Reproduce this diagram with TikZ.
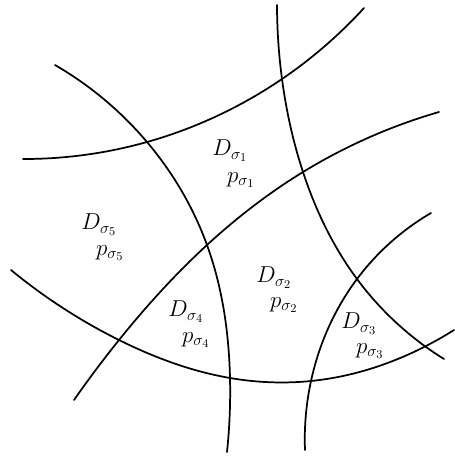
\documentclass[tikz,border=0pt]{standalone}
\usetikzlibrary{hobby}
\begin{document}
\begin{tikzpicture}[x=0.75pt,y=-0.75pt,
  arc/.style={line width=1.3pt,line cap=round,use Hobby shortcut},
  lab/.style={font=\fontsize{17.5}{19}\selectfont,inner sep=0pt}]
\useasboundingbox (0,0) rectangle (454,457);
% curves
\draw[arc] (23,159) .. (147,142) .. (282,79) .. (364,8);
\draw[arc] (277,5) .. (282,79) .. (303,172) .. (357,279) .. (444,359);
\draw[arc] (55,65) .. (147,142) .. (207,245) .. (230,378) .. (227,452);
\draw[arc] (74,400) .. (119,340) .. (207,245) .. (303,172) .. (439,112);
\draw[arc] (11,270) .. (119,340) .. (230,378) .. (311,381) .. (426,346) .. (454,330);
\draw[arc] (431,213) .. (357,279) .. (311,381) .. (305,450);
% labels
\node[lab] (d1) at (230,151) {$D_{\sigma_1}$};
\node[lab] (p1) at (241,180) {$p_{\sigma_1}$};
\node[lab] (d5) at (99,225) {$D_{\sigma_5}$};
\node[lab] (p5) at (110,253) {$p_{\sigma_5}$};
\node[lab] (d2) at (274,278) {$D_{\sigma_2}$};
\node[lab] (p2) at (284,305) {$p_{\sigma_2}$};
\node[lab] (d4) at (186,312) {$D_{\sigma_4}$};
\node[lab] (p4) at (196,340) {$p_{\sigma_4}$};
\node[lab] (d3) at (359,324) {$D_{\sigma_3}$};
\node[lab] (p3) at (370,351) {$p_{\sigma_3}$};
\end{tikzpicture}
\end{document}
